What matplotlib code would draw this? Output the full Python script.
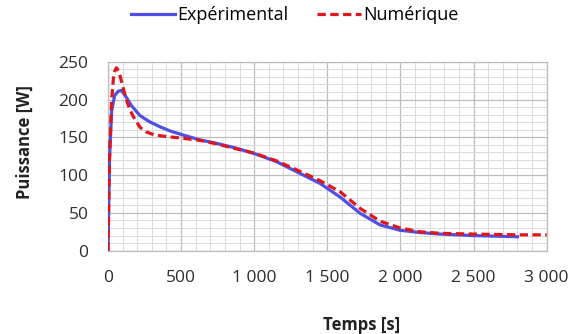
import matplotlib
matplotlib.use("Agg")
import matplotlib.pyplot as plt
from matplotlib.ticker import MultipleLocator, FixedLocator, FixedFormatter

plt.rcParams['font.family'] = ['Open Sans', 'DejaVu Sans']

# Experimental data (time s, power W)
t_exp = [0, 10, 25, 45, 70, 92, 115, 160, 217, 280, 354, 430, 514, 620, 742, 870, 993, 1150, 1290, 1450, 1587, 1724, 1861, 1998, 2135, 2272, 2500, 2800]
p_exp = [0, 120, 185, 205, 211, 212, 206, 192, 179, 171, 164, 158, 153, 147, 142, 136, 129, 118, 104.5, 89, 71, 49.5, 34, 27, 24, 22, 20, 18.5]

# Numerical data
t_num = [0, 10, 25, 40, 57, 75, 95, 120, 145, 171, 220, 263, 320, 400, 500, 628, 750, 850, 1000, 1150, 1290, 1450, 1587, 1724, 1861, 1998, 2135, 2272, 2500, 2800, 3000]
p_num = [0, 120, 200, 235, 242, 237, 222, 203, 189, 178, 163, 157, 153, 151, 149, 146, 141, 136, 129, 119, 107, 92.6, 78, 56, 39, 30, 25, 23, 22, 21, 21]

x_ticks = [0, 500, 1000, 1500, 2000, 2500, 3000]
x_labels = ['0', '500', '1 000', '1 500', '2 000', '2 500', '3 000']
y_ticks = [0, 50, 100, 150, 200, 250]
y_labels = ['0', '50', '100', '150', '200', '250']

W, H = 575, 334
fig = plt.figure(figsize=(W/100, H/100), dpi=100)
ax = fig.add_axes([108/W, 1 - 250.7/H, (546.7-108)/W, (250.7-61.7)/H])

ax.plot(t_exp, p_exp, color='#4F4FE3', lw=2.3, label='Expérimental', zorder=3)
ax.plot(t_num, p_num, color='#E0161C', lw=2.3, ls=(0, (2.6, 1.4)), label='Numérique', zorder=4)

ax.set_xlim(0, 3000)
ax.set_ylim(0, 250)
ax.xaxis.set_major_locator(FixedLocator(x_ticks))
ax.xaxis.set_major_formatter(FixedFormatter(x_labels))
ax.yaxis.set_major_locator(FixedLocator(y_ticks))
ax.yaxis.set_major_formatter(FixedFormatter(y_labels))
ax.xaxis.set_minor_locator(MultipleLocator(100))
ax.yaxis.set_minor_locator(MultipleLocator(10))
ax.grid(which='major', color='#BDBDBD', lw=0.9)
ax.grid(which='minor', color='#DADADA', lw=0.7)
ax.set_axisbelow(True)
ax.tick_params(which='both', length=0)
ax.tick_params(axis='y', pad=14, labelsize=12.5, colors='#2E2E2E')
ax.tick_params(axis='x', pad=14, labelsize=12.5, colors='#2E2E2E')
for s in ax.spines.values():
    s.set_color('#BDBDBD')
    s.set_linewidth(0.9)

fig.text(25/W, 1 - 142/H, 'Puissance [W]', rotation=90, ha='center', va='center',
         fontsize=12, fontweight='bold', color='#222222')
fig.text(362/W, 1 - 325/H, 'Temps [s]', ha='center', va='center',
         fontsize=12, fontweight='bold', color='#222222')

fig.legend(loc='center', bbox_to_anchor=(295/W, 1 - 15/H), ncol=2, frameon=False,
           fontsize=13, handlelength=2.4, handletextpad=0.15, columnspacing=1.6,
           borderpad=0, borderaxespad=0)

fig.savefig('out.png', dpi=100)
